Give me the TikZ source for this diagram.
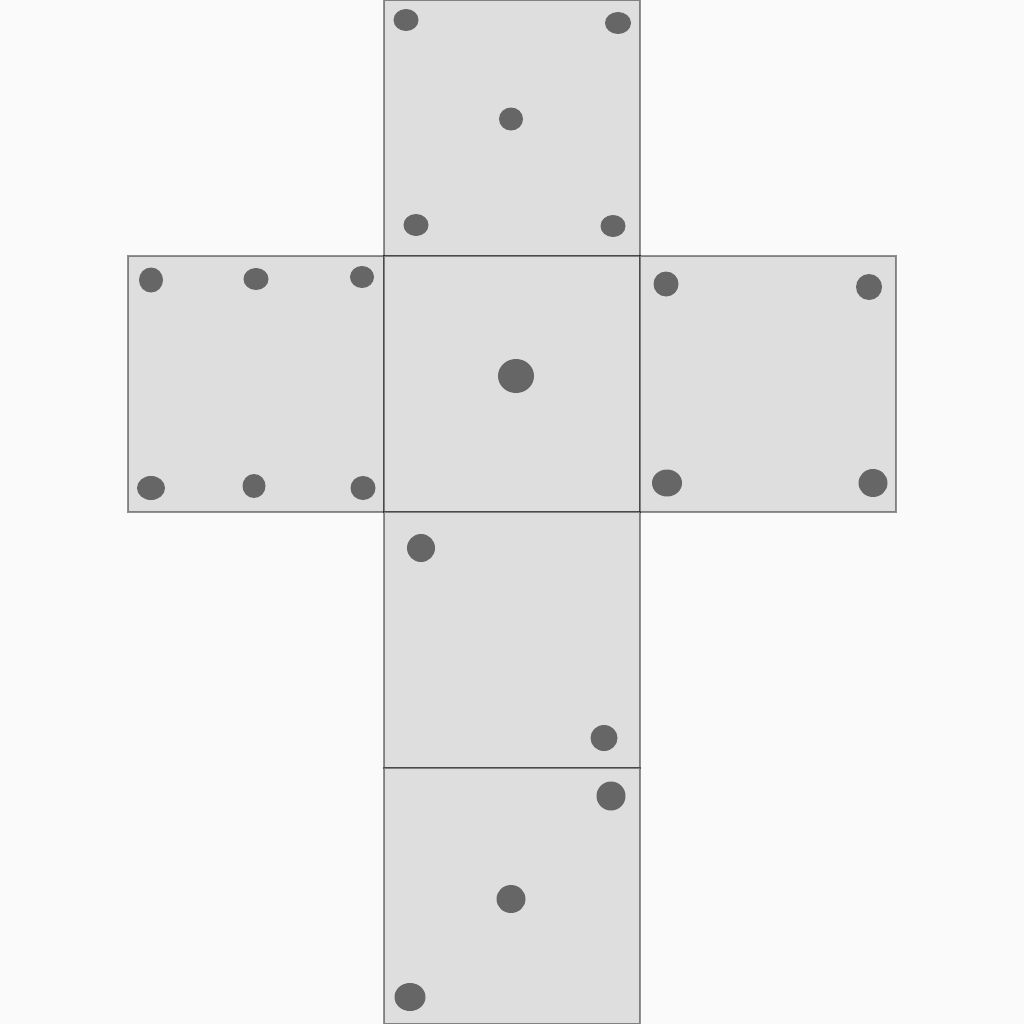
\documentclass[tikz,border=0pt]{standalone}
\begin{document}
\begin{tikzpicture}[x=0.01cm,y=-0.01cm,
  face/.style={fill=facegray,draw=black,draw opacity=0.42,line width=0.45pt},
  pip/.style={fill=pipgray,draw=none}]
\definecolor{bg}{HTML}{FAFAFA}
\definecolor{facegray}{HTML}{DEDEDE}
\definecolor{pipgray}{HTML}{666666}
\fill[bg] (0,0) rectangle (1024,1024);
\useasboundingbox (0,0) rectangle (1024,1024);
% faces
\draw[face] (384,0) rectangle (640,256);
\draw[face] (128,256) rectangle (384,512);
\draw[face] (384,256) rectangle (640,512);
\draw[face] (640,256) rectangle (896,512);
\draw[face] (384,512) rectangle (640,768);
\draw[face] (384,768) rectangle (640,1024);
% top face: five
\fill[pip] (406,20) ellipse [x radius=12.5,y radius=11];
\fill[pip] (618,23) ellipse [x radius=13,y radius=11];
\fill[pip] (511,119) ellipse [x radius=12,y radius=11.5];
\fill[pip] (416,225) ellipse [x radius=12.5,y radius=11];
\fill[pip] (613,226) ellipse [x radius=12.5,y radius=11];
% left face: six
\fill[pip] (151,280) ellipse [x radius=12,y radius=12.5];
\fill[pip] (256,279) ellipse [x radius=12.5,y radius=11];
\fill[pip] (362,277) ellipse [x radius=12,y radius=11];
\fill[pip] (151,488) ellipse [x radius=14,y radius=12];
\fill[pip] (254,486) ellipse [x radius=11.5,y radius=12];
\fill[pip] (363,488) ellipse [x radius=12.5,y radius=12];
% center face: one
\fill[pip] (516,376) ellipse [x radius=18,y radius=17];
% right face: four
\fill[pip] (666,284) ellipse [x radius=12.5,y radius=12.5];
\fill[pip] (869,287) ellipse [x radius=13,y radius=13];
\fill[pip] (667,483) ellipse [x radius=15,y radius=13.5];
\fill[pip] (873,483) ellipse [x radius=14.5,y radius=14];
% lower face: two
\fill[pip] (421,548) ellipse [x radius=14,y radius=14];
\fill[pip] (604,738) ellipse [x radius=13.5,y radius=13];
% bottom face: three
\fill[pip] (611,796) ellipse [x radius=14.5,y radius=14.5];
\fill[pip] (511,899) ellipse [x radius=14.5,y radius=14];
\fill[pip] (410,997) ellipse [x radius=15.5,y radius=14];
\end{tikzpicture}
\end{document}
